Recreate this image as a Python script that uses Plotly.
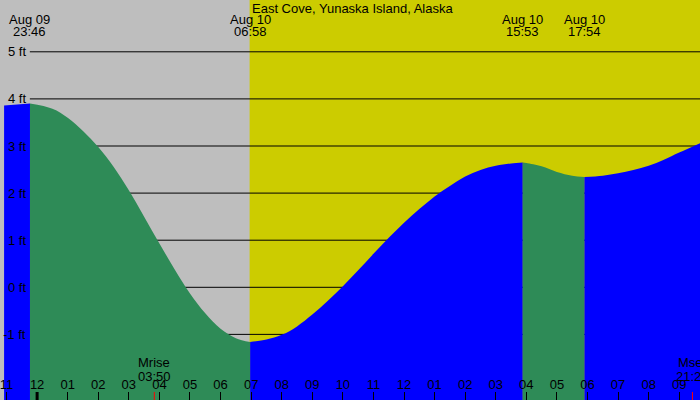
import pandas as pd
import plotly.graph_objects as go

station = "East Cove, Yunaska Island, Alaska"
day = pd.Timestamp("2025-08-10")

# tide curve: hours from midnight Aug 10, height in ft
curve_hours = [-1.08, 0.5, 1.0, 1.5, 2.0, 2.5, 3.0, 3.5, 4.0, 4.5, 5.0, 5.5, 6.0, 6.5,
               7.5, 8.0, 8.5, 9.0, 9.5, 10.0, 10.5, 11.0, 11.5, 12.0, 12.5, 13.0,
               13.5, 14.0, 14.5, 15.0, 15.5, 16.0, 16.5, 17.0, 17.5,
               18.5, 19.0, 19.5, 20.0, 20.5, 21.0, 21.68]
curve_heights = [3.86, 3.79, 3.60, 3.32, 2.98, 2.56, 2.06, 1.50, 0.93, 0.38, -0.13, -0.55, -0.88, -1.08,
                 -1.11, -1.01, -0.83, -0.58, -0.29, 0.02, 0.36, 0.71, 1.05, 1.37, 1.66, 1.93,
                 2.15, 2.35, 2.49, 2.58, 2.63, 2.64, 2.57, 2.45, 2.37,
                 2.37, 2.42, 2.49, 2.58, 2.71, 2.86, 3.06]

# highs and lows
event_times = ["2025-08-09 23:46", "2025-08-10 06:58", "2025-08-10 15:53", "2025-08-10 17:54"]
event_heights = [3.90, -1.16, 2.65, 2.34]

moon_names = ["Mrise", "Mset"]
moon_times = ["2025-08-10 03:50", "2025-08-10 21:26"]

sunrise = "2025-08-10 06:57"
sunset = "2025-08-10 22:41"

levels = [-1, 0, 1, 2, 3, 4, 5]

x_start = day + pd.Timedelta(hours=-1.083)
x_end = day + pd.Timedelta(hours=21.68)
y_range = [-2.393, 6.10]
bottom = -2.6

GRAY = "#bebebe"
YELLOW = "#cccc00"
FALL = "#2e8b57"
RISE = "#0000ff"

# merge curve points with the turning points
pts = [(day + pd.Timedelta(hours=h), v) for h, v in zip(curve_hours, curve_heights)]
events = [pd.Timestamp(t) for t in event_times]
pts += list(zip(events, event_heights))
pts.sort(key=lambda p: p[0])

bounds = [pts[0][0]] + events + [pts[-1][0]]

fig = go.Figure()

for a, b in zip(bounds[:-1], bounds[1:]):
    seg = [p for p in pts if a <= p[0] <= b]
    sx = [p[0] for p in seg]
    sy = [p[1] for p in seg]
    color = FALL if sy[-1] < sy[0] else RISE
    fig.add_trace(go.Scatter(x=[a, b], y=[bottom, bottom], mode="lines",
                             line=dict(width=0), hoverinfo="skip", showlegend=False))
    fig.add_trace(go.Scatter(x=sx, y=sy, mode="lines", fill="tonexty",
                             fillcolor=color, line=dict(width=0, shape="spline"),
                             showlegend=False))

# day / night background
fig.add_shape(type="rect", x0=x_start, x1=sunrise, y0=0, y1=1, yref="paper",
              fillcolor=GRAY, line_width=0, layer="below")
fig.add_shape(type="rect", x0=sunrise, x1=min(pd.Timestamp(sunset), x_end), y0=0, y1=1,
              yref="paper", fillcolor=YELLOW, line_width=0, layer="below")

for lvl in levels:
    fig.add_shape(type="line", xref="paper", x0=26 / 700, x1=1, y0=lvl, y1=lvl,
                  line=dict(color="black", width=1), layer="below")
    fig.add_annotation(x=24 / 700, xref="paper", y=lvl, text=f"{lvl} ft",
                       xanchor="right", showarrow=False)

# midnight and moon ticks
fig.add_shape(type="line", x0=day, x1=day, yref="paper", y0=0, y1=8 / 400,
              line=dict(color="black", width=3))
for name, t in zip(moon_names, moon_times):
    ts = pd.Timestamp(t)
    fig.add_shape(type="line", x0=ts, x1=ts, yref="paper", y0=0, y1=8 / 400,
                  line=dict(color="red", width=1))
    fig.add_annotation(x=ts, y=0, yref="paper", text=name, yshift=38,
                       showarrow=False, yanchor="middle")
    fig.add_annotation(x=ts, y=0, yref="paper", text=ts.strftime("%H:%M"), yshift=24,
                       showarrow=False, yanchor="middle")

for t in events:
    fig.add_annotation(x=t, y=1, yref="paper", text=t.strftime("%b %d"), yshift=-19,
                       showarrow=False, yanchor="middle")
    fig.add_annotation(x=t, y=1, yref="paper", text=t.strftime("%H:%M"), yshift=-31,
                       showarrow=False, yanchor="middle")

fig.add_annotation(x=0.5, xref="paper", y=1, yref="paper", text=station, yshift=-8,
                   showarrow=False, yanchor="middle")

fig.update_xaxes(type="date", range=[x_start, x_end], tickformat="%I",
                 dtick=3600000, tick0=day, ticks="inside", ticklen=8,
                 tickcolor="black", ticklabelposition="inside",
                 ticklabeloverflow="allow", showgrid=False, zeroline=False,
                 showline=False, tickfont=dict(size=13, color="black"))
fig.update_yaxes(range=y_range, visible=False)

fig.update_layout(
    width=700, height=400,
    margin=dict(l=0, r=0, t=0, b=0),
    paper_bgcolor=GRAY, plot_bgcolor=GRAY,
    font=dict(family="Liberation Sans, Arial, sans-serif", size=13, color="black"),
    showlegend=False,
)

fig.write_html("out.html", config={"displayModeBar": False},
               post_script="document.body.style.margin = '0';")
